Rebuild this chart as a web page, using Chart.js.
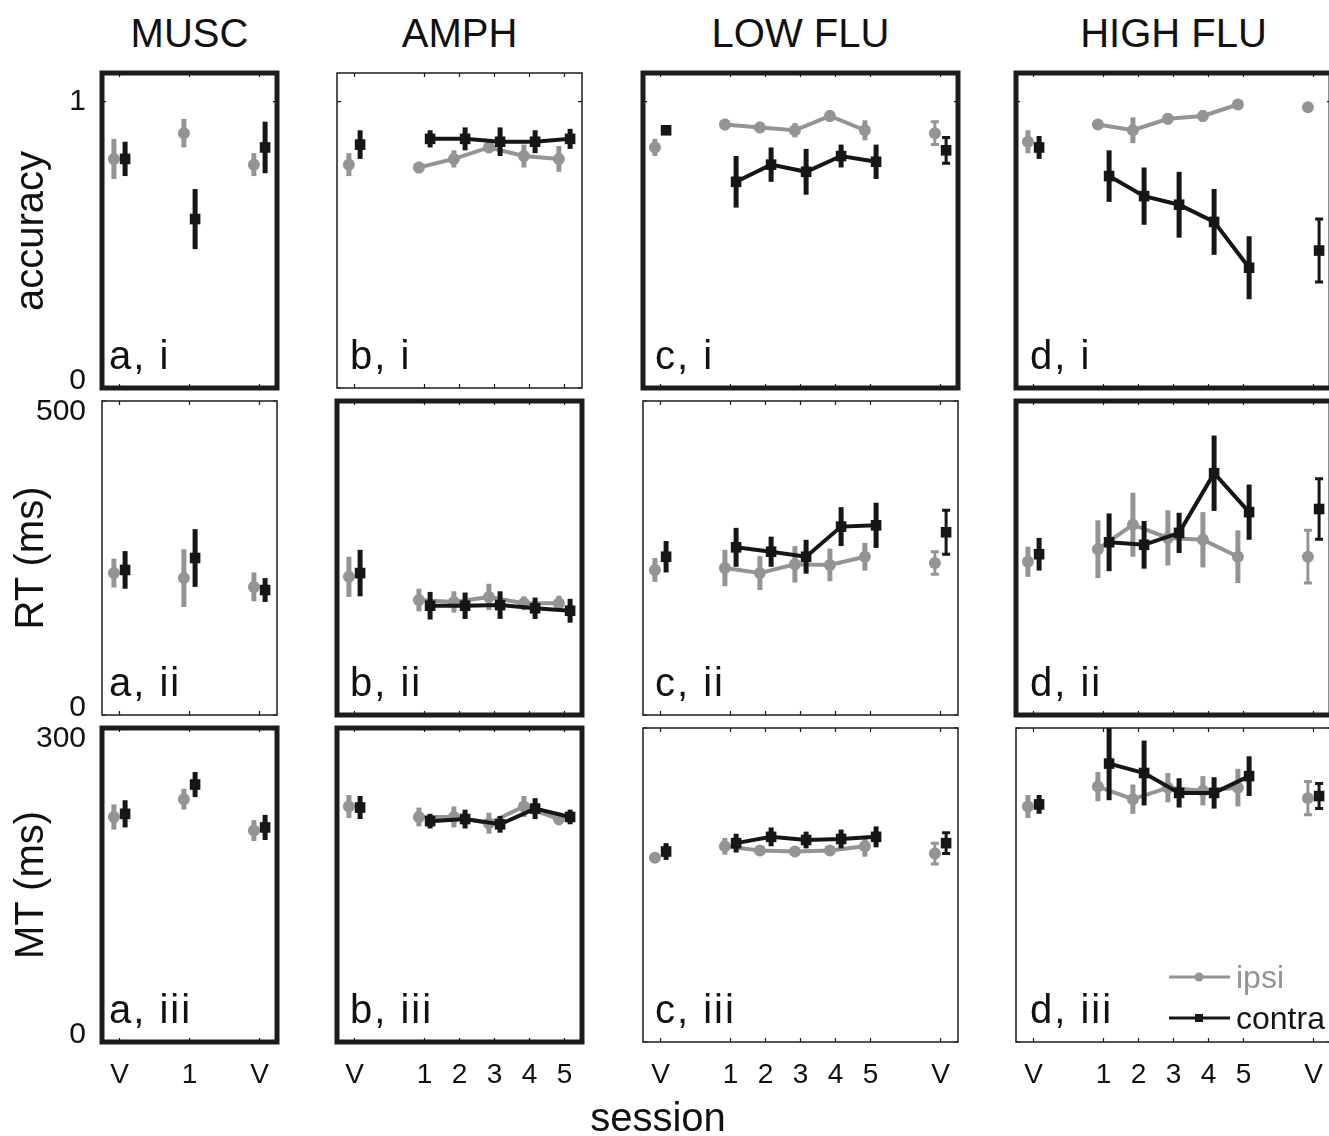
<!DOCTYPE html>
<html>
<head>
<meta charset="utf-8">
<script src="https://cdn.jsdelivr.net/npm/chart.js@4.4.0/dist/chart.umd.min.js"></script>
<style>
html, body { margin: 0; padding: 0; background: #fff; overflow: hidden; }
body { width: 1329px; height: 1136px; position: relative; font-family: 'Liberation Sans', Arial, Helvetica, sans-serif; color: #111; }
.lbl { position: absolute; font-size: 40px; line-height: 40px; white-space: nowrap; }
canvas { position: absolute; }
</style>
</head>
<body>
<script>
// ---- data ----
const columns = ['MUSC', 'AMPH', 'LOW FLU', 'HIGH FLU'];
const rowTitles = ['accuracy', 'RT (ms)', 'MT (ms)'];
const colLetters = ['a', 'b', 'c', 'd'];
const rowNumerals = ['i', 'ii', 'iii'];
const seriesNames = ['ipsi', 'contra'];

// x position of each session and its tick label, per column
const sessionX = [
  [-1, 1, 3],
  [-1, 1, 2, 3, 4, 5],
  [-1, 1, 2, 3, 4, 5, 7],
  [-1, 1, 2, 3, 4, 5, 7]
];
const sessionLabels = [
  ['V', '1', 'V'],
  ['V', '1', '2', '3', '4', '5'],
  ['V', '1', '2', '3', '4', '5', 'V'],
  ['V', '1', '2', '3', '4', '5', 'V']
];
const yMax = [1.1, 500, 300];
const yTicks = [[0, 1], [0, 500], [0, 300]];

// accuracy
const accIpsi = [
  [0.80, 0.89, 0.78],
  [0.78, 0.77, 0.80, 0.84, 0.81, 0.80],
  [0.84, 0.92, 0.91, 0.90, 0.95, 0.90, 0.89],
  [0.86, 0.92, 0.90, 0.94, 0.95, 0.99, 0.98]
];
const accIpsiErr = [
  [0.07, 0.05, 0.04],
  [0.04, 0.02, 0.03, 0.02, 0.04, 0.045],
  [0.03, 0.02, 0.02, 0.025, 0.02, 0.035, 0.04],
  [0.04, 0.015, 0.045, 0.02, 0.02, 0, 0]
];
const accContra = [
  [0.80, 0.59, 0.84],
  [0.85, 0.87, 0.87, 0.86, 0.86, 0.87],
  [0.90, 0.72, 0.78, 0.755, 0.81, 0.79, 0.83],
  [0.84, 0.74, 0.67, 0.64, 0.58, 0.42, 0.48]
];
const accContraErr = [
  [0.06, 0.105, 0.09],
  [0.05, 0.03, 0.04, 0.05, 0.04, 0.035],
  [0.01, 0.09, 0.06, 0.08, 0.04, 0.06, 0.045],
  [0.04, 0.09, 0.1, 0.115, 0.115, 0.11, 0.11]
];

// reaction time
const rtIpsi = [
  [226, 218, 204],
  [220, 183, 180, 188, 178, 178],
  [231, 234, 226, 240, 239, 252, 242],
  [244, 264, 303, 282, 279, 252, 252]
];
const rtIpsiErr = [
  [23, 46, 23],
  [32, 18, 17, 21, 11, 12],
  [19, 29, 27, 29, 26, 22, 18],
  [24, 46, 51, 44, 44, 42, 42]
];
const rtContra = [
  [231, 250, 199],
  [226, 174, 174, 175, 170, 166],
  [252, 267, 260, 252, 300, 302, 291],
  [256, 275, 271, 290, 385, 323, 328]
];
const rtContraErr = [
  [30, 46, 19],
  [37, 22, 21, 22, 17, 19],
  [25, 31, 24, 27, 31, 36, 35],
  [26, 46, 38, 32, 60, 44, 48]
];

// movement time
const mtIpsi = [
  [215, 232, 202],
  [225, 215, 215, 209, 225, 213],
  [176, 187, 183, 182, 183, 187, 180],
  [225, 244, 232, 243, 240, 243, 233]
];
const mtIpsiErr = [
  [12, 10, 10],
  [11, 9, 10, 10, 10, 6],
  [3, 8, 3, 3, 3, 10, 10],
  [11, 14, 14, 14, 14, 18, 16]
];
const mtContra = [
  [218, 246, 205],
  [224, 211, 213, 208, 223, 215],
  [182, 190, 196, 193, 194, 196, 190],
  [227, 266, 257, 238, 238, 254, 235]
];
const mtContraErr = [
  [13, 12, 12],
  [11, 7, 9, 8, 10, 7],
  [8, 9, 9, 8, 9, 10, 10],
  [9, 35, 31, 14, 15, 19, 12]
];

// ---- layout / style ----
const GRAY = '#949494', BLACK = '#161616';
const FONT = "'Liberation Sans', Arial, Helvetica, sans-serif";
const UNIT = 35;
const COL_LEFT = [102, 337, 643, 1016];
const X_MIN = -1.5;
const X_MAX = [3.5, 5.5, 7.5, 7.5];
const ROW_TOP = [73, 401, 728];
const ROW_H = [315, 314, 314];
const THICK = [[true, false, true, true], [false, true, false, true], [true, true, false, false]];
const CAP_POST = [false, false, true, true];
const LABEL_DX = [7, 13, 12, 14];
const M = { l: 80, r: 10, t: 10, b: 60 };

Chart.defaults.font.family = FONT;
Chart.defaults.color = '#111';

const rowData = [
  [accIpsi, accIpsiErr, accContra, accContraErr],
  [rtIpsi, rtIpsiErr, rtContra, rtContraErr],
  [mtIpsi, mtIpsiErr, mtContra, mtContraErr]
];

const errorBars = {
  id: 'errorBars',
  beforeDatasetDraw(chart, args) {
    const ds = chart.data.datasets[args.index];
    if (!ds.errors) return;
    const { ctx, chartArea: a, scales: { x, y } } = chart;
    ctx.save();
    ctx.beginPath();
    ctx.rect(a.left, a.top, a.right - a.left, a.bottom - a.top);
    ctx.clip();
    ctx.strokeStyle = ds.borderColor;
    ds.data.forEach((p, i) => {
      const e = ds.errors[i];
      if (!e) return;
      const px = x.getPixelForValue(p.x);
      const y0 = y.getPixelForValue(p.y - e), y1 = y.getPixelForValue(p.y + e);
      ctx.lineWidth = ds.caps ? 3 : 5;
      ctx.beginPath();
      ctx.moveTo(px, y0); ctx.lineTo(px, y1);
      if (ds.caps) {
        ctx.moveTo(px - 4, y0); ctx.lineTo(px + 4, y0);
        ctx.moveTo(px - 4, y1); ctx.lineTo(px + 4, y1);
      }
      ctx.stroke();
    });
    ctx.restore();
  }
};

// box, inward tick marks, and y tick labels kept inside the axis height
const frame = {
  id: 'frame',
  afterDraw(chart, args, opts) {
    const { ctx, chartArea: a, scales: { x, y } } = chart;
    ctx.save();
    ctx.strokeStyle = '#1a1a1a';
    ctx.lineWidth = 1.2;
    ctx.beginPath();
    x.ticks.forEach(t => {
      const px = x.getPixelForValue(t.value);
      ctx.moveTo(px, a.top); ctx.lineTo(px, a.top + 4);
      ctx.moveTo(px, a.bottom); ctx.lineTo(px, a.bottom - 4);
    });
    y.ticks.forEach(t => {
      const py = y.getPixelForValue(t.value);
      ctx.moveTo(a.left, py); ctx.lineTo(a.left + 4, py);
      ctx.moveTo(a.right, py); ctx.lineTo(a.right - 4, py);
    });
    ctx.stroke();
    ctx.lineWidth = opts.width;
    ctx.strokeStyle = '#1c1c1c';
    ctx.strokeRect(a.left, a.top, a.right - a.left, a.bottom - a.top);
    if (opts.yLabels) {
      ctx.fillStyle = '#111';
      ctx.font = '30px ' + FONT;
      ctx.textAlign = 'right';
      ctx.textBaseline = 'middle';
      y.ticks.forEach(t => {
        const py = Math.min(Math.max(y.getPixelForValue(t.value), a.top + 11), a.bottom - 7);
        ctx.fillText(String(t.value), a.left - 16, py);
      });
    }
    ctx.restore();
  }
};

const legendBox = {
  id: 'legendBox',
  afterDraw(chart) {
    const { ctx, chartArea: a } = chart;
    const items = [[seriesNames[0], GRAY, 'circle', a.bottom - 65], [seriesNames[1], BLACK, 'rect', a.bottom - 24]];
    ctx.save();
    items.forEach(([name, col, style, ly]) => {
      ctx.strokeStyle = col; ctx.fillStyle = col; ctx.lineWidth = 3;
      ctx.beginPath();
      ctx.moveTo(a.left + 153, ly); ctx.lineTo(a.left + 214, ly);
      ctx.stroke();
      const mx = a.left + 183;
      if (style === 'circle') {
        ctx.beginPath(); ctx.arc(mx, ly, 4.5, 0, Math.PI * 2); ctx.fill();
      } else {
        ctx.fillRect(mx - 4, ly - 4, 8, 8);
      }
      ctx.font = '32px ' + FONT;
      ctx.textBaseline = 'alphabetic';
      ctx.fillText(name, a.left + 220, ly + 11);
    });
    ctx.restore();
  }
};

function buildSets(c, vals, errs, color, style, dx) {
  const xs = sessionX[c], labs = sessionLabels[c];
  const groups = { s: [], v: [], cap: [] };
  xs.forEach((xv, i) => {
    let key = 's';
    if (labs[i] === 'V') key = (CAP_POST[c] && i === xs.length - 1) ? 'cap' : 'v';
    groups[key].push({ x: xv + dx, y: vals[i], e: errs[i] });
  });
  return ['s', 'v', 'cap'].filter(k => groups[k].length).map(k => ({
    data: groups[k].map(p => ({ x: p.x, y: p.y })),
    errors: groups[k].map(p => p.e),
    caps: k === 'cap',
    showLine: k === 's',
    borderColor: color,
    backgroundColor: color,
    borderWidth: 4,
    tension: 0,
    pointStyle: style,
    pointRadius: style === 'rect' ? 7.5 : 6,
    pointBorderWidth: 0,
    pointHoverRadius: 0
  }));
}

function addLabel(text, css) {
  const d = document.createElement('div');
  d.className = 'lbl';
  d.textContent = text;
  Object.assign(d.style, css);
  document.body.appendChild(d);
  return d;
}

// keep the plot area fixed: no extra room for overhanging tick labels
function fixY(s) {
  s.width = M.l;
  s.paddingTop = 0; s.paddingBottom = 0;
}
function fixX(s) {
  s.height = M.b;
  s.paddingLeft = 0; s.paddingRight = 0;
}

for (let r = 0; r < 3; r++) {
  for (let c = 0; c < 4; c++) {
    const pw = (X_MAX[c] - X_MIN) * UNIT, ph = ROW_H[r];
    const cv = document.createElement('canvas');
    cv.width = pw + M.l + M.r;
    cv.height = ph + M.t + M.b;
    cv.style.left = (COL_LEFT[c] - M.l) + 'px';
    cv.style.top = (ROW_TOP[r] - M.t) + 'px';
    document.body.appendChild(cv);

    const [iv, ie, cvv, ce] = rowData[r];
    const datasets = [
      ...buildSets(c, cvv[c], ce[c], BLACK, 'rect', 0.16),
      ...buildSets(c, iv[c], ie[c], GRAY, 'circle', -0.16)
    ];
    const xs = sessionX[c], labs = sessionLabels[c];
    const plugins = [errorBars, frame];
    if (r === 2 && c === 3) plugins.push(legendBox);

    new Chart(cv, {
      type: 'line',
      data: { datasets },
      options: {
        responsive: false,
        animation: false,
        events: [],
        layout: { padding: { left: 0, right: M.r, top: M.t, bottom: 0 } },
        plugins: {
          legend: { display: false },
          tooltip: { enabled: false },
          frame: { width: THICK[r][c] ? 5 : 1.5, yLabels: c === 0 }
        },
        scales: {
          x: {
            type: 'linear', min: X_MIN, max: X_MAX[c], position: 'bottom',
            grid: { display: false, drawTicks: false },
            border: { display: false },
            afterBuildTicks: s => { s.ticks = xs.map(v => ({ value: v })); },
            afterFit: fixX,
            ticks: {
              display: r === 2, autoSkip: false, maxRotation: 0, minRotation: 0,
              padding: 16, font: { size: 28 }, color: '#111',
              callback: (v, i) => labs[i]
            }
          },
          y: {
            type: 'linear', min: 0, max: yMax[r], position: 'left',
            grid: { display: false, drawTicks: false },
            border: { display: false },
            afterBuildTicks: s => { s.ticks = yTicks[r].map(v => ({ value: v })); },
            afterFit: fixY,
            ticks: { display: false }
          }
        }
      },
      plugins
    });

    addLabel(colLetters[c] + ', ' + rowNumerals[r], {
      left: (COL_LEFT[c] + LABEL_DX[c]) + 'px',
      top: (ROW_TOP[r] + ROW_H[r] - 53) + 'px',
      letterSpacing: '2px'
    });
  }
}

columns.forEach((t, c) => {
  const center = COL_LEFT[c] + (X_MAX[c] - X_MIN) * UNIT / 2;
  addLabel(t, { left: (center - 150) + 'px', top: '13px', width: '300px', textAlign: 'center' });
});

rowTitles.forEach((t, r) => {
  const cy = ROW_TOP[r] + ROW_H[r] / 2;
  addLabel(t, {
    left: (29 - 150) + 'px', top: (cy - 20) + 'px', width: '300px', height: '40px',
    textAlign: 'center', transform: 'rotate(-90deg)', transformOrigin: '50% 50%'
  });
});

addLabel('session', { left: '508px', top: '1097px', width: '300px', textAlign: 'center' });
</script>
</body>
</html>
